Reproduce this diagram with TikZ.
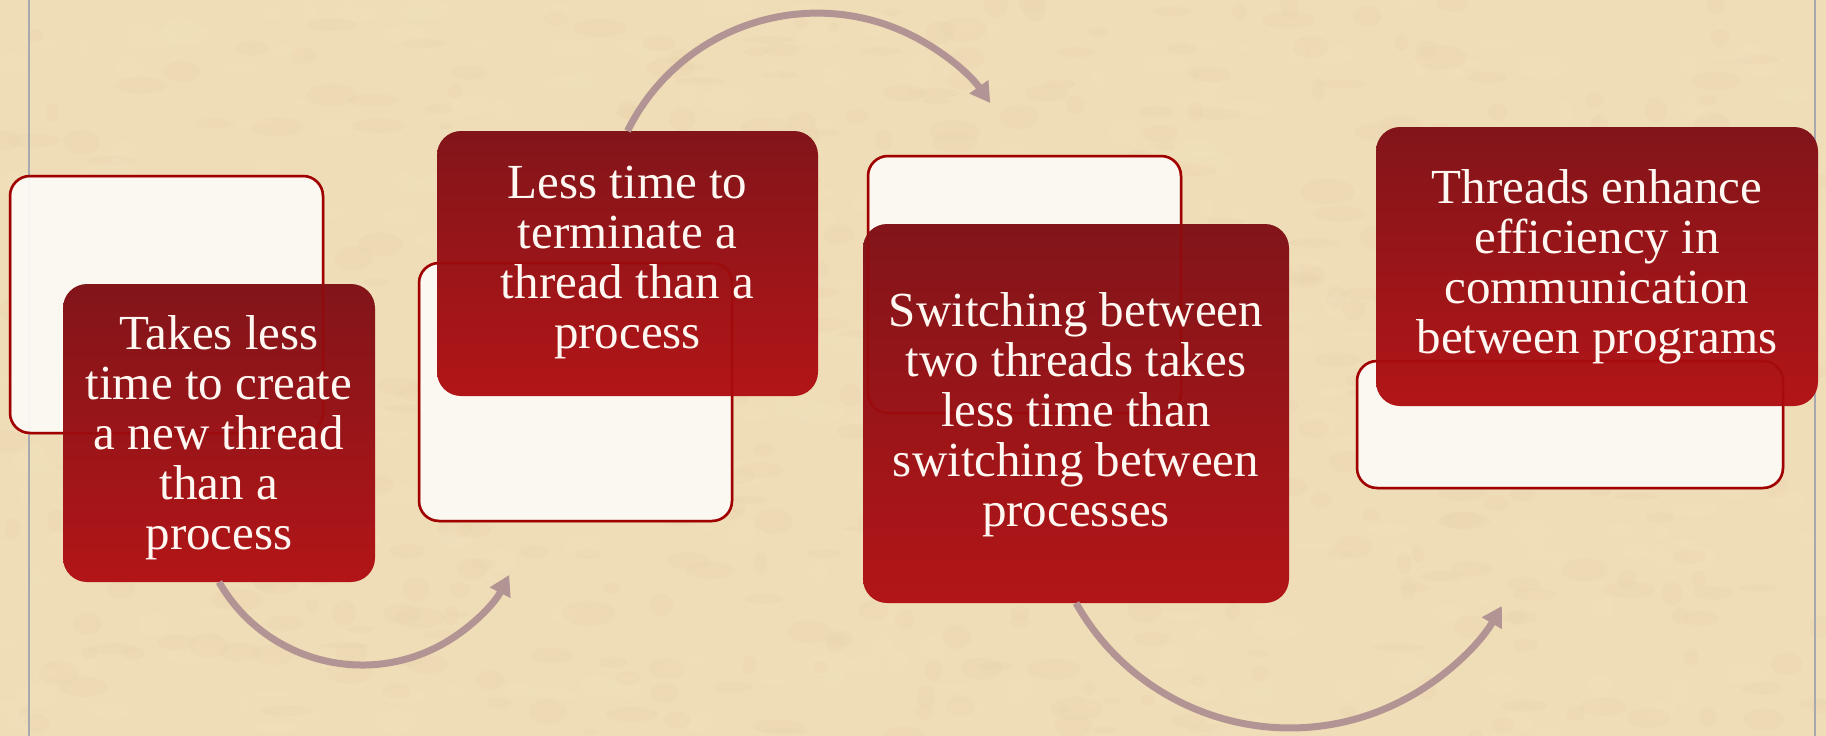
\documentclass[tikz,border=0pt]{standalone}
\usepackage{fontspec}
\setmainfont{Liberation Serif}
\usetikzlibrary{arrows.meta}
\definecolor{bg}{HTML}{EFDDB7}
\definecolor{bgdark}{HTML}{C9AE80}
\definecolor{bglight}{HTML}{FAEDCD}
\definecolor{redtop}{HTML}{82151A}
\definecolor{redbot}{HTML}{B21517}
\definecolor{boxline}{HTML}{A00000}
\definecolor{boxfill}{HTML}{FCFAF6}
\definecolor{arr}{HTML}{B39494}
\definecolor{rulecol}{HTML}{A8A8B0}
\definecolor{txt}{HTML}{FFF8F2}
\begin{document}
\begin{tikzpicture}[x=1pt,y=-1pt,
  whitebox/.style={draw=boxline, line width=2.5pt, fill=boxfill, fill opacity=0.95, rounded corners=20pt, inner sep=0pt, outer sep=0pt},
  ghostline/.style={draw=boxline, line width=2.5pt, draw opacity=0.45, rounded corners=20pt},
  redbox/.style={rounded corners=24pt, top color=redtop, bottom color=redbot, inner sep=0pt, outer sep=0pt},
  boxtext/.style={text=txt, align=center, font=\fontsize{49}{50}\selectfont, inner sep=0pt},
  curvedarrow/.style={draw=arr, line width=7pt, -{Triangle[length=20pt,width=22pt]}},
  rulestyle/.style={draw=rulecol, line width=2pt}]
\useasboundingbox (0,0) rectangle (1826,736);
\fill[bg] (0,0) rectangle (1826,736);
% parchment texture
\pgfmathsetseed{7}
\foreach \i in {1,...,500}{
  \pgfmathsetmacro{\px}{rnd*1826}
  \pgfmathsetmacro{\py}{rnd*736}
  \pgfmathsetmacro{\rx}{6+rnd*22}
  \pgfmathsetmacro{\ry}{3+rnd*10}
  \fill[bgdark, opacity=0.045] (\px,\py) ellipse[x radius=\rx pt, y radius=\ry pt];
}
\foreach \i in {1,...,400}{
  \pgfmathsetmacro{\px}{rnd*1826}
  \pgfmathsetmacro{\py}{rnd*736}
  \pgfmathsetmacro{\rx}{6+rnd*20}
  \pgfmathsetmacro{\ry}{3+rnd*10}
  \fill[bglight, opacity=0.09] (\px,\py) ellipse[x radius=\rx pt, y radius=\ry pt];
}
\draw[rulestyle] (29,0) -- (29,736);
\draw[rulestyle] (1815,0) -- (1815,736);

% white boxes
\node[whitebox, minimum width=313pt, minimum height=257pt] (w1) at (166.5,304.5) {};
\node[whitebox, minimum width=313pt, minimum height=258pt] (w2) at (575.5,392) {};
\node[whitebox, minimum width=313pt, minimum height=257pt] (w3) at (1024.5,284.5) {};
\node[whitebox, minimum width=426pt, minimum height=127pt] (w4) at (1570,424.5) {};

% red boxes
\node[redbox, minimum width=312pt, minimum height=298pt] (r1) at (219,433) {};
\node[redbox, minimum width=381pt, minimum height=265pt] (r2) at (627.5,263.5) {};
\node[redbox, minimum width=426pt, minimum height=379pt] (r3) at (1076,413.5) {};
\node[redbox, minimum width=442pt, minimum height=279pt] (r4) at (1597,266.5) {};

% outlines of the white boxes showing through the red ones
\draw[ghostline] (w1.south west) rectangle (w1.north east);
\draw[ghostline] (w2.south west) rectangle (w2.north east);
\draw[ghostline] (w3.south west) rectangle (w3.north east);
\draw[ghostline] (w4.south west) rectangle (w4.north east);

% texts
\node[boxtext] (t1) at ([yshift=-5pt]r1.center) {Takes less\\time to create\\a new thread\\than a\\process};
\node[boxtext] (t2) at ([yshift=1pt]r2.center) {Less time to\\terminate a\\thread than a\\process};
\node[boxtext] (t3) at ([yshift=-1pt]r3.center) {Switching between\\two threads takes\\less time than\\switching between\\processes};
\node[boxtext] (t4) at (r4.center) {Threads enhance\\efficiency in\\communication\\between programs};

% arrows
\draw[curvedarrow] (r1.south) arc[start angle=-150.2, end angle=-27, radius=165pt];
\draw[curvedarrow] (r2.north) arc[start angle=153.7, end angle=35.1, radius=211.6pt];
\draw[curvedarrow] (r3.south) arc[start angle=-150.6, end angle=-30.2, radius=245.4pt];
\end{tikzpicture}
\end{document}
